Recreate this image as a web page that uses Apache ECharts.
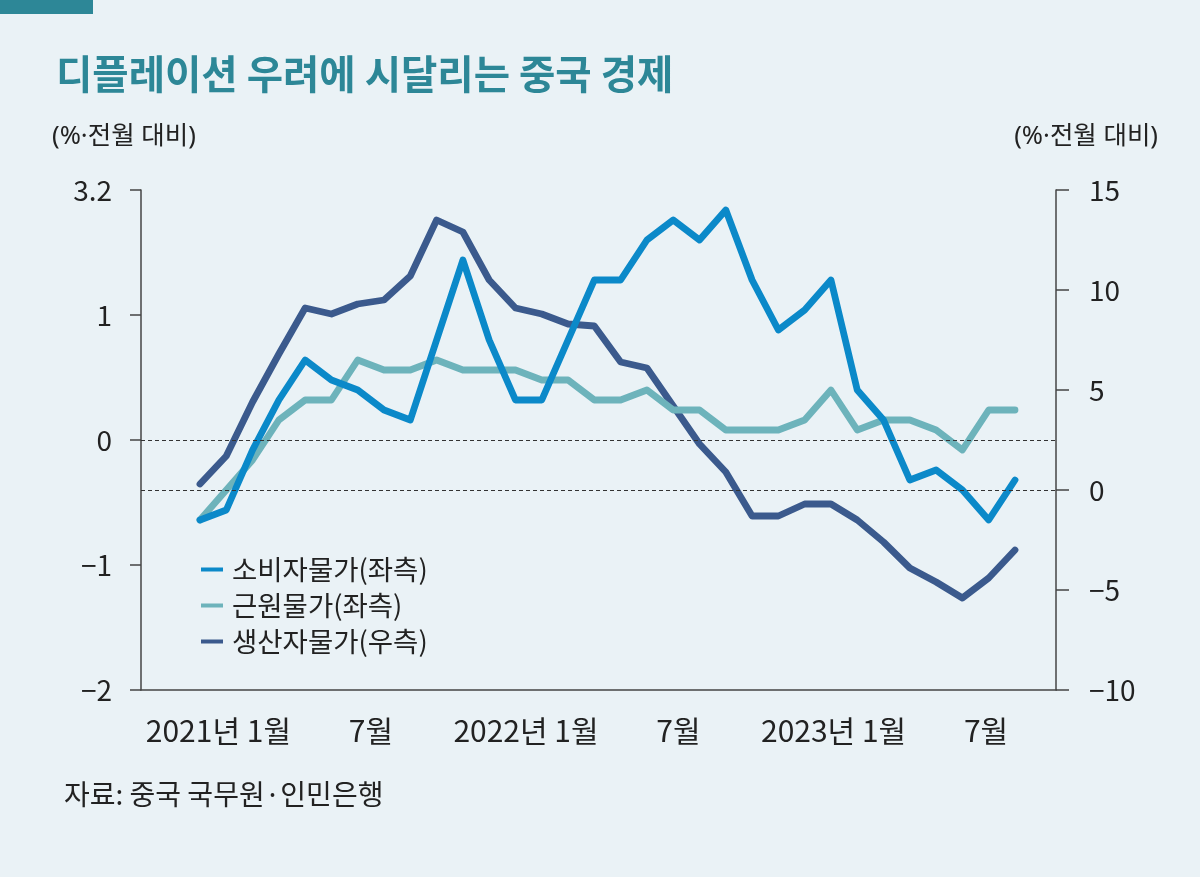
<!DOCTYPE html>
<html>
<head>
<meta charset="utf-8">
<script src="https://cdn.jsdelivr.net/npm/echarts@6/dist/echarts.min.js"></script>
<style>
html,body{margin:0;padding:0;background:#eaf2f6;}
#c{width:1200px;height:877px;}
</style>
</head>
<body>
<div id="c"></div>
<script>
// Month index 0 = 2021-01 ... 31 = 2023-08
const months = Array.from({length: 32}, (_, i) => i);
const cpi  = [-0.3, -0.2, 0.4, 0.9, 1.3, 1.1, 1.0, 0.8, 0.7, 1.5, 2.3, 1.5, 0.9, 0.9, 1.5, 2.1, 2.1, 2.5, 2.7, 2.5, 2.8, 2.1, 1.6, 1.8, 2.1, 1.0, 0.7, 0.1, 0.2, 0.0, -0.3, 0.1];
const core = [-0.3, 0.0, 0.3, 0.7, 0.9, 0.9, 1.3, 1.2, 1.2, 1.3, 1.2, 1.2, 1.2, 1.1, 1.1, 0.9, 0.9, 1.0, 0.8, 0.8, 0.6, 0.6, 0.6, 0.7, 1.0, 0.6, 0.7, 0.7, 0.6, 0.4, 0.8, 0.8];
const ppi  = [0.3, 1.7, 4.4, 6.8, 9.1, 8.8, 9.3, 9.5, 10.7, 13.5, 12.9, 10.5, 9.1, 8.8, 8.3, 8.2, 6.4, 6.1, 4.2, 2.3, 0.9, -1.3, -1.3, -0.7, -0.7, -1.5, -2.6, -3.9, -4.6, -5.4, -4.4, -3.0];
const xTickLabels = ['2021년 1월', '7월', '2022년 1월', '7월', '2023년 1월', '7월'];
const leftTickLabels = {'2': '3.2', '1': '1', '0': '0', '-1': '\u22121', '-2': '\u22122'};
const seriesNames = ['소비자물가(좌측)', '근원물가(좌측)', '생산자물가(우측)'];

const FONT = '"Noto Sans CJK KR", "Noto Sans", sans-serif';
const FONT_LATIN = '"Noto Sans", "Noto Sans CJK KR", sans-serif';
const labelPos = [0.7, 6.5, 12.4, 18.2, 24.1, 29.9];

const chart = echarts.init(document.getElementById('c'), null, {renderer: 'canvas'});
const lineStyle = (c) => ({color: c, width: 6.8, cap: 'round', join: 'round'});
const dash = {color: '#333', type: [4, 3], width: 1.2};

chart.setOption({
  backgroundColor: '#eaf2f6',
  animation: false,
  grid: {left: 141, right: 144, top: 190, bottom: 187, containLabel: false},
  xAxis: {
    type: 'value', min: -2.244, max: 32.56,
    axisLine: {show: true, onZero: false, lineStyle: {color: '#444', width: 1.5}},
    axisTick: {show: false},
    splitLine: {show: false},
    axisLabel: {
      customValues: labelPos,
      margin: 26,
      fontSize: 30, fontFamily: FONT, color: '#222',
      formatter: (v) => {
        let best = 0, d = 1e9;
        labelPos.forEach((p, i) => { if (Math.abs(p - v) < d) { d = Math.abs(p - v); best = i; } });
        return xTickLabels[best];
      }
    }
  },
  yAxis: [
    {
      type: 'value', position: 'left', min: -2, max: 2, interval: 1,
      axisLine: {show: true, onZero: false, lineStyle: {color: '#444', width: 1.5}},
      axisTick: {show: true, length: 11, lineStyle: {color: '#444', width: 1.5}},
      splitLine: {show: false},
      axisLabel: {margin: 29, fontSize: 28, fontFamily: FONT, color: '#222',
        formatter: (v) => leftTickLabels[String(v)]}
    },
    {
      type: 'value', position: 'right', min: -10, max: 15, interval: 5,
      axisLine: {show: true, onZero: false, lineStyle: {color: '#444', width: 1.5}},
      axisTick: {show: true, length: 13, lineStyle: {color: '#444', width: 1.5}},
      splitLine: {show: false},
      axisLabel: {margin: 33, fontSize: 28, fontFamily: FONT, color: '#222',
        formatter: (v) => v < 0 ? '\u2212' + Math.abs(v) : String(v)}
    },
    {
      type: 'value', show: false, min: -2, max: 3
    }
  ],
  legend: {
    orient: 'vertical', left: 196, top: 549,
    icon: 'rect', itemWidth: 22, itemHeight: 4, itemGap: 5,
    data: seriesNames,
    textStyle: {fontSize: 27.5, fontFamily: FONT, color: '#222', lineHeight: 31, padding: [0, 0, 0, 4]}
  },
  series: [
    {
      name: seriesNames[0], type: 'line', yAxisIndex: 2, z: 4,
      data: months.map((m, i) => [m, cpi[i]]),
      showSymbol: false, color: '#0b89c9', lineStyle: lineStyle('#0b89c9')
    },
    {
      name: seriesNames[1], type: 'line', yAxisIndex: 2, z: 3,
      data: months.map((m, i) => [m, core[i]]),
      showSymbol: false, color: '#6db3bb', lineStyle: lineStyle('#6db3bb')
    },
    {
      name: seriesNames[2], type: 'line', yAxisIndex: 1, z: 2,
      data: months.map((m, i) => [m, ppi[i]]),
      showSymbol: false, color: '#3b5a8d', lineStyle: lineStyle('#3b5a8d'),
      markLine: {silent: true, symbol: 'none', label: {show: false}, animation: false,
        lineStyle: dash, data: [{yAxis: 0}]}
    },
    {
      type: 'line', yAxisIndex: 0, data: [], z: 1,
      markLine: {silent: true, symbol: 'none', label: {show: false}, animation: false,
        lineStyle: dash, data: [{yAxis: 0}]}
    }
  ],
  graphic: [
    {type: 'rect', left: 0, top: 0, shape: {width: 93, height: 14}, style: {fill: '#2d8797'}},
    {type: 'text', left: 56, top: 54, style: {text: '디플레이션 우려에 시달리는 중국 경제', font: 'bold 39.5px ' + FONT, fill: '#2d8797'}},
    {type: 'text', left: 52, top: 124, style: {text: '(%·전월 대비)', font: '25.5px ' + FONT_LATIN, fill: '#222'}},
    {type: 'text', right: 42, top: 124, style: {text: '(%·전월 대비)', font: '25.5px ' + FONT_LATIN, fill: '#222'}},
    {type: 'text', left: 64, top: 780, style: {text: '자료: 중국 국무원·인민은행', font: '28px ' + FONT, fill: '#222'}}
  ]
});
</script>
</body>
</html>
